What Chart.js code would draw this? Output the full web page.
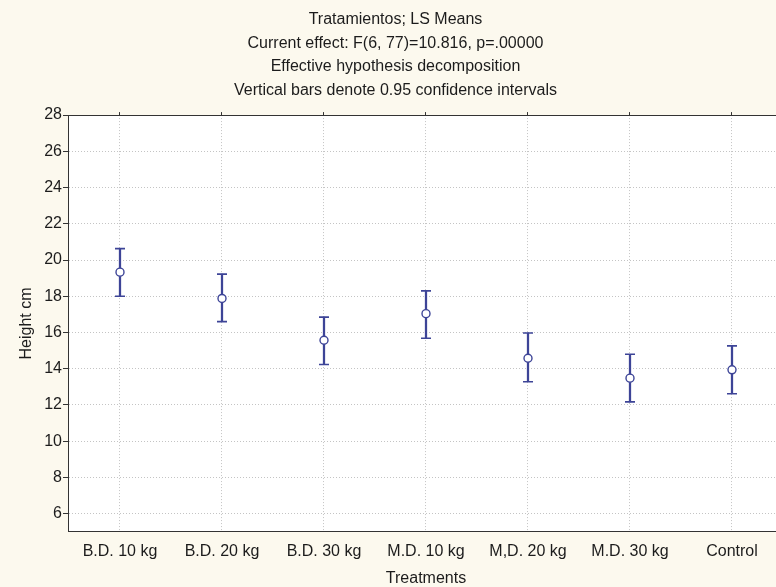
<!DOCTYPE html>
<html>
<head>
<meta charset="utf-8">
<script src="https://cdn.jsdelivr.net/npm/chart.js@4.4.1/dist/chart.umd.min.js"></script>
<style>
    html, body { margin: 0; padding: 0; background: #fcf9ee; overflow: hidden; }
    #wrap { width: 802px; height: 587px; }
</style>
</head>
<body>
<div id="wrap"><canvas id="lsMeansChart" width="802" height="587"></canvas></div>
<script>
// Treatments and LS means with 0.95 confidence limits
const treatments = ['B.D. 10 kg', 'B.D. 20 kg', 'B.D. 30 kg', 'M.D. 10 kg', 'M,D. 20 kg', 'M.D. 30 kg', 'Control'];
const means = [19.33, 17.88, 15.57, 17.04, 14.58, 13.48, 13.94];
const upperCI = [20.63, 19.22, 16.85, 18.30, 15.97, 14.80, 15.26];
const lowerCI = [18.00, 16.60, 14.23, 15.68, 13.28, 12.17, 12.62];
const yTicks = [6, 8, 10, 12, 14, 16, 18, 20, 22, 24, 26, 28];

const titleLines = [
    'Tratamientos; LS Means',
    'Current effect: F(6, 77)=10.816, p=.00000',
    'Effective hypothesis decomposition',
    'Vertical bars denote 0.95 confidence intervals'
];

const navy = '#3d4497';
const axisColor = '#333333';
const gridColor = '#c4c4c4';
const textColor = '#1c1c1c';
const fontFamily = "'Liberation Sans', Arial, sans-serif";

// white plot area on the cream page
const plotBackground = {
    id: 'plotBackground',
    beforeDraw(chart) {
        const { ctx, chartArea } = chart;
        ctx.save();
        ctx.fillStyle = '#ffffff';
        ctx.fillRect(chartArea.left, chartArea.top, chartArea.right - chartArea.left, chartArea.bottom - chartArea.top);
        ctx.restore();
    }
};

const ctx = document.getElementById('lsMeansChart').getContext('2d');
const lsChart = new Chart(ctx, {
    type: 'bar',
    data: {
        labels: treatments,
        datasets: [
            {
                // mean markers
                type: 'line',
                label: 'LS mean',
                data: means,
                showLine: false,
                pointStyle: 'circle',
                pointRadius: 4,
                pointBackgroundColor: '#ffffff',
                pointBorderColor: navy,
                pointBorderWidth: 1.4,
                order: 0
            },
            {
                // upper caps
                type: 'line',
                label: 'Upper',
                data: upperCI,
                showLine: false,
                pointStyle: 'line',
                pointRadius: 5,
                pointBorderColor: navy,
                pointBorderWidth: 1.6,
                order: 1
            },
            {
                // lower caps
                type: 'line',
                label: 'Lower',
                data: lowerCI,
                showLine: false,
                pointStyle: 'line',
                pointRadius: 5,
                pointBorderColor: navy,
                pointBorderWidth: 1.6,
                order: 1
            },
            {
                // vertical whiskers
                label: 'CI',
                data: lowerCI.map((lo, i) => [lo, upperCI[i]]),
                backgroundColor: navy,
                borderWidth: 0,
                barThickness: 1.6,
                order: 2
            }
        ]
    },
    options: {
        responsive: false,
        animation: false,
        layout: {
            padding: { left: 8, right: 19, top: 0, bottom: 0 }
        },
        plugins: {
            legend: { display: false },
            tooltip: { enabled: false },
            title: {
                display: true,
                text: titleLines,
                color: textColor,
                font: { family: fontFamily, size: 16, weight: 'normal', lineHeight: 1.47 },
                padding: { top: 8, bottom: 10 }
            }
        },
        scales: {
            x: {
                type: 'category',
                offset: true,
                grid: {
                    display: true,
                    offset: false,
                    color: gridColor,
                    drawTicks: false
                },
                border: { display: true, color: axisColor, width: 1, dash: [1, 2] },
                ticks: {
                    color: textColor,
                    font: { family: fontFamily, size: 16 },
                    padding: 10,
                    maxRotation: 0,
                    autoSkip: false
                },
                title: {
                    display: true,
                    text: 'Treatments',
                    color: textColor,
                    font: { family: fontFamily, size: 16, lineHeight: 1 },
                    padding: { top: 0, bottom: 0 }
                }
            },
            x2: {
                type: 'category',
                position: 'top',
                offset: true,
                grid: {
                    display: true,
                    offset: false,
                    drawOnChartArea: false,
                    drawTicks: true,
                    tickLength: 3,
                    tickColor: axisColor
                },
                border: { display: true, color: axisColor, width: 1 },
                ticks: { display: false }
            },
            y: {
                min: 5,
                max: 28,
                afterBuildTicks: (scale) => {
                    scale.ticks = yTicks.map(v => ({ value: v }));
                },
                grid: {
                    color: gridColor,
                    drawTicks: true,
                    tickLength: 6,
                    tickColor: axisColor,
                    tickBorderDash: []
                },
                border: { display: true, color: axisColor, width: 1, dash: [1, 2] },
                ticks: {
                    color: textColor,
                    font: { family: fontFamily, size: 16 },
                    padding: 1
                },
                title: {
                    display: true,
                    text: 'Height cm',
                    color: textColor,
                    font: { family: fontFamily, size: 16 },
                    padding: { top: 9, bottom: 7 }
                }
            }
        }
    },
    plugins: [plotBackground]
});
</script>
</body>
</html>
